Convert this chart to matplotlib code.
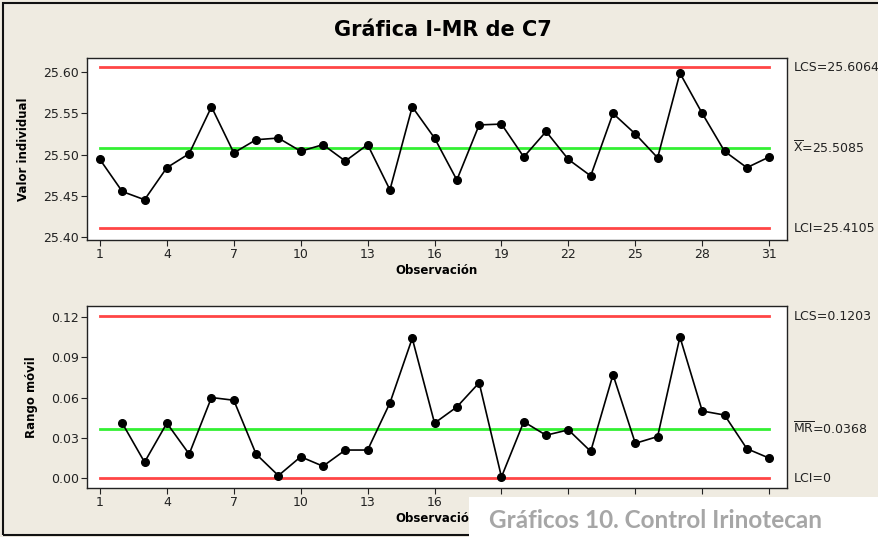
import numpy as np
import matplotlib
matplotlib.use("Agg")
import matplotlib.pyplot as plt
from matplotlib.patches import Rectangle
import matplotlib.transforms as mtransforms

plt.rcParams['font.family'] = ['DejaVu Sans']
plt.rcParams['mathtext.default'] = 'regular'

# Individual observations (C7)
obs = np.arange(1, 32)
valores = [25.494, 25.455, 25.445, 25.484, 25.501, 25.558, 25.502, 25.518,
           25.520, 25.504, 25.512, 25.492, 25.512, 25.457, 25.558, 25.520,
           25.469, 25.536, 25.537, 25.497, 25.528, 25.494, 25.474, 25.550,
           25.525, 25.496, 25.599, 25.550, 25.504, 25.484, 25.497]

# Moving ranges (start at observation 2)
obs_mr = np.arange(2, 32)
rangos = [0.041, 0.012, 0.041, 0.018, 0.060, 0.058, 0.018, 0.002, 0.016,
          0.009, 0.021, 0.021, 0.056, 0.104, 0.041, 0.053, 0.071, 0.001,
          0.042, 0.032, 0.036, 0.020, 0.077, 0.026, 0.031, 0.105, 0.050,
          0.047, 0.022, 0.015]

# Control limits
lim_i = {'LCS': 25.6064, 'media': 25.5085, 'LCI': 25.4105}
lim_mr = {'LCS': 0.1203, 'media': 0.0368, 'LCI': 0.0}

xticks = np.arange(1, 32, 3)
fondo = '#EFEBE1'
rojo = '#FF4545'
verde = '#33F033'

fig = plt.figure(figsize=(8.79, 5.37), dpi=100, facecolor=fondo)
W, H = 879, 537

def px_axes(l, t, r, b):
    return fig.add_axes([l / W, 1 - b / H, (r - l) / W, (b - t) / H])

ax1 = px_axes(87, 58, 787, 240)
ax2 = px_axes(87, 306, 787, 488)

def panel(ax, x, y, lims, ylim, yticks, ylabel, etiquetas):
    ax.set_facecolor('white')
    ax.plot([1, 31], [lims['LCS']] * 2, color=rojo, lw=2, zorder=2)
    ax.plot([1, 31], [lims['LCI']] * 2, color=rojo, lw=2, zorder=2)
    ax.plot([1, 31], [lims['media']] * 2, color=verde, lw=2, zorder=2)
    ax.plot(x, y, color='black', lw=1.2, marker='o', markersize=5.5, zorder=3)
    ax.set_xlim(0.42, 31.8)
    ax.set_ylim(*ylim)
    ax.set_xticks(xticks)
    ax.set_yticks(yticks)
    ax.yaxis.set_major_formatter(matplotlib.ticker.FormatStrFormatter('%.2f'))
    ax.tick_params(direction='out', length=4, width=0.8, labelsize=9,
                   colors='#222222', pad=2)
    for s in ax.spines.values():
        s.set_linewidth(1.0)
        s.set_color('#222222')
    ax.set_ylabel(ylabel, fontsize=8.5, fontweight='bold', labelpad=9)
    ax.set_xlabel('Observación', fontsize=8.5, fontweight='bold', labelpad=2)
    trans = mtransforms.blended_transform_factory(ax.transAxes, ax.transData)
    for key, txt in etiquetas:
        ax.text(1.009, lims[key], txt, transform=trans, ha='left', va='center',
                fontsize=9, color='#222222')

panel(ax1, obs, valores, lim_i, (25.396, 25.6174),
      [25.40, 25.45, 25.50, 25.55, 25.60], 'Valor individual',
      [('LCS', 'LCS=25.6064'), ('media', r'$\overline{X}$=25.5085'),
       ('LCI', 'LCI=25.4105')])
panel(ax2, obs_mr, rangos, lim_mr, (-0.0072, 0.128),
      [0.00, 0.03, 0.06, 0.09, 0.12], 'Rango móvil',
      [('LCS', 'LCS=0.1203'), ('media', r'$\overline{MR}$=0.0368'),
       ('LCI', 'LCI=0')])

fig.text(443 / W, 1 - 30 / H, 'Gráfica I-MR de C7', ha='center', va='center',
         fontsize=15, fontweight='bold')

# outer frame
fig.patches.append(Rectangle((3 / W, 2 / H), 1.0, 1 - 5 / H,
                             transform=fig.transFigure, fill=False,
                             edgecolor='#111111', lw=1.5, zorder=0))

# caption box over the lower right corner
fig.patches.append(Rectangle((469 / W, 0), 1 - 469 / W, 40 / H,
                             transform=fig.transFigure, facecolor='white',
                             edgecolor='none', zorder=10))
fig.text(489 / W, 1 - 521 / H, 'Gráficos 10. Control Irinotecan',
         ha='left', va='center', fontsize=17.5, fontweight='bold',
         color='#A6A6A6', family='Lato', zorder=11)

fig.savefig('out.png', dpi=100, facecolor=fondo)
